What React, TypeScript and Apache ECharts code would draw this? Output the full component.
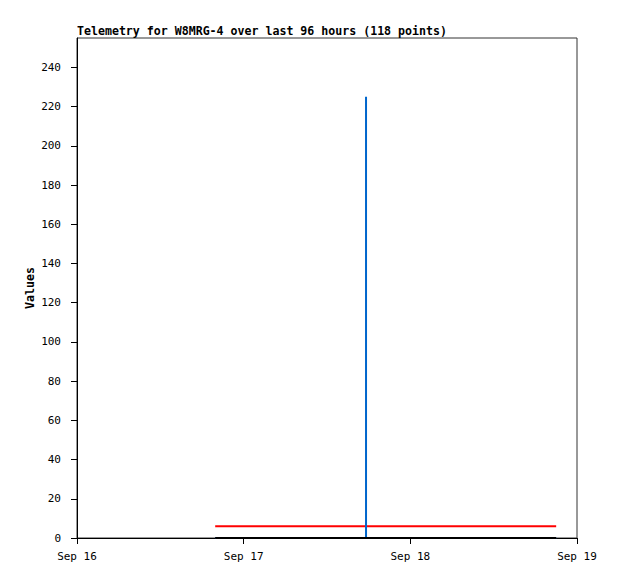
import React, { useEffect, useRef } from "react";
import * as echarts from "echarts";

// hours since Sep 16 00:00
const xTicks = [0, 24, 48, 72];
const xTickLabels = ["Sep 16", "Sep 17", "Sep 18", "Sep 19"];
const yTicks = [0, 20, 40, 60, 80, 100, 120, 140, 160, 180, 200, 220, 240];

const redSeries: [number, number][] = [
  [19.9, 6],
  [69.0, 6],
];
const blueSeries: [number, number][] = [
  [19.9, 0],
  [41.62, 0],
  [41.62, 225],
  [41.62, 0],
  [69.0, 0],
];
const blackSeries: [number, number][] = [
  [19.9, 0],
  [69.0, 0],
];

const FONT = "DejaVu Sans Mono";

export default function App() {
  const ref = useRef<HTMLDivElement>(null);
  useEffect(() => {
    const chart = echarts.init(ref.current!, null, { renderer: "svg" });
    chart.setOption({
      animation: false,
      backgroundColor: "#fff",
      title: {
        text: "Telemetry for W8MRG-4 over last 96 hours (118 points)",
        left: 77,
        top: 25,
        textStyle: { fontFamily: FONT, fontSize: 11.6, fontWeight: "bold", color: "#000" },
        padding: 0,
      },
      grid: {
        left: 77,
        top: 38,
        width: 500,
        height: 500,
        show: true,
        borderColor: "#333",
        borderWidth: 1,
        backgroundColor: "transparent",
      },
      xAxis: {
        type: "value",
        min: 0,
        max: 72,
        interval: 24,
        axisLine: { show: true, lineStyle: { color: "#000", width: 1 } },
        axisTick: { show: true, length: 6, customValues: xTicks, lineStyle: { color: "#000" } },
        axisLabel: {
          customValues: xTicks,
          margin: 13,
          fontFamily: FONT,
          fontSize: 11,
          color: "#000",
          formatter: (v: number) => xTickLabels[xTicks.indexOf(v)] ?? "",
        },
        splitLine: { show: false },
      },
      yAxis: {
        type: "value",
        min: 0,
        max: 255,
        name: "Values",
        nameLocation: "middle",
        nameGap: 41,
        nameMoveOverlap: false,
        nameTextStyle: { fontFamily: FONT, fontSize: 11.6, fontWeight: "bold", color: "#000" },
        axisLine: { show: true, lineStyle: { color: "#000", width: 1 } },
        axisTick: { show: true, length: 6, customValues: yTicks, lineStyle: { color: "#000" } },
        axisLabel: {
          customValues: yTicks,
          margin: 16,
          fontFamily: FONT,
          fontSize: 11,
          color: "#000",
        },
        splitLine: { show: false },
      },
      series: [
        {
          type: "line",
          data: redSeries,
          symbol: "none",
          lineStyle: { color: "#ff0000", width: 2 },
          z: 2,
        },
        {
          type: "line",
          data: blueSeries,
          symbol: "none",
          clip: false,
          lineStyle: { color: "#0066cc", width: 2 },
          z: 3,
        },
        {
          type: "line",
          data: blackSeries,
          symbol: "none",
          clip: false,
          lineStyle: { color: "#000000", width: 2 },
          z: 4,
        },
      ],
    });
    return () => chart.dispose();
  }, []);
  return (
    <div
      ref={ref}
      style={{ position: "absolute", left: 0, top: 0, width: 618, height: 579 }}
    />
  );
}
